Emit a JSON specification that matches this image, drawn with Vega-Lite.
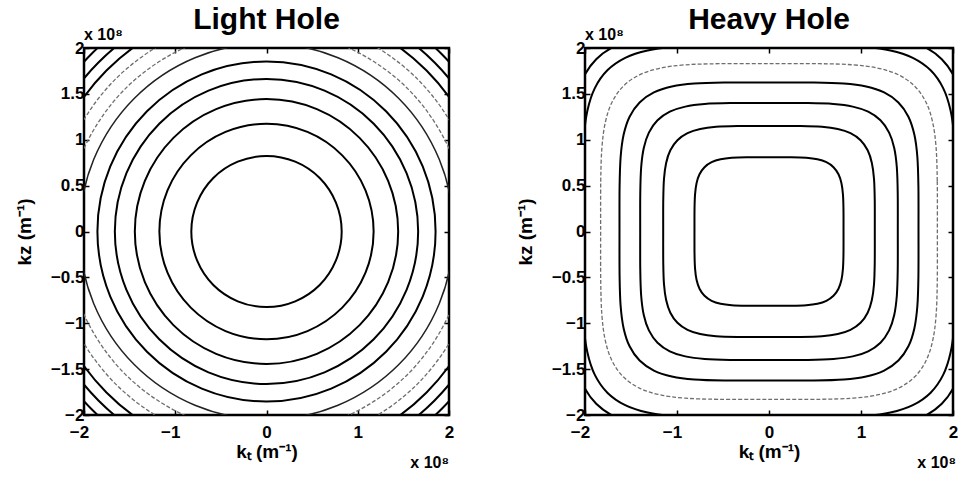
{
  "$schema": "https://vega.github.io/schema/vega-lite/v6.json",
  "padding": {"left": 14, "top": 3, "right": 0, "bottom": 0},
  "spacing": 60,
  "config": {
    "font": "Liberation Sans",
    "view": {"stroke": "black", "strokeWidth": 2.5},
    "axis": {
      "grid": false,
      "domain": false,
      "labelFont": "Liberation Sans",
      "labelFontSize": 17,
      "labelFontWeight": "bold",
      "labelColor": "black",
      "labelFlush": false,
      "labelOverlap": false,
      "tickColor": "black",
      "tickSize": -5,
      "tickWidth": 1.5,
      "titleFont": "Liberation Sans",
      "titleFontSize": 19,
      "titleFontWeight": "bold",
      "titleColor": "black"
    },
    "title": {"font": "Liberation Sans", "fontSize": 30, "fontWeight": "bold", "color": "black", "anchor": "middle", "offset": -8}
  },
  "datasets": {
    "light": [
      {"c":1,"i":0,"kt":0.824,"kz":0},{"c":1,"i":1,"kt":0.761,"kz":0.315},{"c":1,"i":2,"kt":0.583,"kz":0.583},{"c":1,"i":3,"kt":0.315,"kz":0.761},{"c":1,"i":4,"kt":0,"kz":0.824},{"c":1,"i":5,"kt":-0.315,"kz":0.761},{"c":1,"i":6,"kt":-0.583,"kz":0.583},{"c":1,"i":7,"kt":-0.761,"kz":0.315},{"c":1,"i":8,"kt":-0.824,"kz":0},{"c":1,"i":9,"kt":-0.761,"kz":-0.315},{"c":1,"i":10,"kt":-0.583,"kz":-0.583},{"c":1,"i":11,"kt":-0.315,"kz":-0.761},{"c":1,"i":12,"kt":0,"kz":-0.824},{"c":1,"i":13,"kt":0.315,"kz":-0.761},{"c":1,"i":14,"kt":0.583,"kz":-0.583},{"c":1,"i":15,"kt":0.761,"kz":-0.315},
      {"c":2,"i":0,"kt":1.174,"kz":0},{"c":2,"i":1,"kt":1.085,"kz":0.449},{"c":2,"i":2,"kt":0.83,"kz":0.83},{"c":2,"i":3,"kt":0.449,"kz":1.085},{"c":2,"i":4,"kt":0,"kz":1.174},{"c":2,"i":5,"kt":-0.449,"kz":1.085},{"c":2,"i":6,"kt":-0.83,"kz":0.83},{"c":2,"i":7,"kt":-1.085,"kz":0.449},{"c":2,"i":8,"kt":-1.174,"kz":0},{"c":2,"i":9,"kt":-1.085,"kz":-0.449},{"c":2,"i":10,"kt":-0.83,"kz":-0.83},{"c":2,"i":11,"kt":-0.449,"kz":-1.085},{"c":2,"i":12,"kt":0,"kz":-1.174},{"c":2,"i":13,"kt":0.449,"kz":-1.085},{"c":2,"i":14,"kt":0.83,"kz":-0.83},{"c":2,"i":15,"kt":1.085,"kz":-0.449},
      {"c":3,"i":0,"kt":1.443,"kz":0},{"c":3,"i":1,"kt":1.333,"kz":0.552},{"c":3,"i":2,"kt":1.02,"kz":1.02},{"c":3,"i":3,"kt":0.552,"kz":1.333},{"c":3,"i":4,"kt":0,"kz":1.443},{"c":3,"i":5,"kt":-0.552,"kz":1.333},{"c":3,"i":6,"kt":-1.02,"kz":1.02},{"c":3,"i":7,"kt":-1.333,"kz":0.552},{"c":3,"i":8,"kt":-1.443,"kz":0},{"c":3,"i":9,"kt":-1.333,"kz":-0.552},{"c":3,"i":10,"kt":-1.02,"kz":-1.02},{"c":3,"i":11,"kt":-0.552,"kz":-1.333},{"c":3,"i":12,"kt":0,"kz":-1.443},{"c":3,"i":13,"kt":0.552,"kz":-1.333},{"c":3,"i":14,"kt":1.02,"kz":-1.02},{"c":3,"i":15,"kt":1.333,"kz":-0.552},
      {"c":4,"i":0,"kt":1.662,"kz":0},{"c":4,"i":1,"kt":1.535,"kz":0.636},{"c":4,"i":2,"kt":1.175,"kz":1.175},{"c":4,"i":3,"kt":0.636,"kz":1.535},{"c":4,"i":4,"kt":0,"kz":1.662},{"c":4,"i":5,"kt":-0.636,"kz":1.535},{"c":4,"i":6,"kt":-1.175,"kz":1.175},{"c":4,"i":7,"kt":-1.535,"kz":0.636},{"c":4,"i":8,"kt":-1.662,"kz":0},{"c":4,"i":9,"kt":-1.535,"kz":-0.636},{"c":4,"i":10,"kt":-1.175,"kz":-1.175},{"c":4,"i":11,"kt":-0.636,"kz":-1.535},{"c":4,"i":12,"kt":0,"kz":-1.662},{"c":4,"i":13,"kt":0.636,"kz":-1.535},{"c":4,"i":14,"kt":1.175,"kz":-1.175},{"c":4,"i":15,"kt":1.535,"kz":-0.636},
      {"c":5,"i":0,"kt":1.853,"kz":0},{"c":5,"i":1,"kt":1.712,"kz":0.709},{"c":5,"i":2,"kt":1.31,"kz":1.31},{"c":5,"i":3,"kt":0.709,"kz":1.712},{"c":5,"i":4,"kt":0,"kz":1.853},{"c":5,"i":5,"kt":-0.709,"kz":1.712},{"c":5,"i":6,"kt":-1.31,"kz":1.31},{"c":5,"i":7,"kt":-1.712,"kz":0.709},{"c":5,"i":8,"kt":-1.853,"kz":0},{"c":5,"i":9,"kt":-1.712,"kz":-0.709},{"c":5,"i":10,"kt":-1.31,"kz":-1.31},{"c":5,"i":11,"kt":-0.709,"kz":-1.712},{"c":5,"i":12,"kt":0,"kz":-1.853},{"c":5,"i":13,"kt":0.709,"kz":-1.712},{"c":5,"i":14,"kt":1.31,"kz":-1.31},{"c":5,"i":15,"kt":1.712,"kz":-0.709},
      {"c":6,"i":0,"kt":2.05,"kz":0},{"c":6,"i":1,"kt":1.894,"kz":0.784},{"c":6,"i":2,"kt":1.45,"kz":1.45},{"c":6,"i":3,"kt":0.784,"kz":1.894},{"c":6,"i":4,"kt":0,"kz":2.05},{"c":6,"i":5,"kt":-0.784,"kz":1.894},{"c":6,"i":6,"kt":-1.45,"kz":1.45},{"c":6,"i":7,"kt":-1.894,"kz":0.784},{"c":6,"i":8,"kt":-2.05,"kz":0},{"c":6,"i":9,"kt":-1.894,"kz":-0.784},{"c":6,"i":10,"kt":-1.45,"kz":-1.45},{"c":6,"i":11,"kt":-0.784,"kz":-1.894},{"c":6,"i":12,"kt":0,"kz":-2.05},{"c":6,"i":13,"kt":0.784,"kz":-1.894},{"c":6,"i":14,"kt":1.45,"kz":-1.45},{"c":6,"i":15,"kt":1.894,"kz":-0.784},
      {"c":7,"i":0,"kt":2.195,"kz":0},{"c":7,"i":1,"kt":2.028,"kz":0.84},{"c":7,"i":2,"kt":1.552,"kz":1.552},{"c":7,"i":3,"kt":0.84,"kz":2.028},{"c":7,"i":4,"kt":0,"kz":2.195},{"c":7,"i":5,"kt":-0.84,"kz":2.028},{"c":7,"i":6,"kt":-1.552,"kz":1.552},{"c":7,"i":7,"kt":-2.028,"kz":0.84},{"c":7,"i":8,"kt":-2.195,"kz":0},{"c":7,"i":9,"kt":-2.028,"kz":-0.84},{"c":7,"i":10,"kt":-1.552,"kz":-1.552},{"c":7,"i":11,"kt":-0.84,"kz":-2.028},{"c":7,"i":12,"kt":0,"kz":-2.195},{"c":7,"i":13,"kt":0.84,"kz":-2.028},{"c":7,"i":14,"kt":1.552,"kz":-1.552},{"c":7,"i":15,"kt":2.028,"kz":-0.84},
      {"c":8,"i":0,"kt":2.345,"kz":0},{"c":8,"i":1,"kt":2.166,"kz":0.897},{"c":8,"i":2,"kt":1.658,"kz":1.658},{"c":8,"i":3,"kt":0.897,"kz":2.166},{"c":8,"i":4,"kt":0,"kz":2.345},{"c":8,"i":5,"kt":-0.897,"kz":2.166},{"c":8,"i":6,"kt":-1.658,"kz":1.658},{"c":8,"i":7,"kt":-2.166,"kz":0.897},{"c":8,"i":8,"kt":-2.345,"kz":0},{"c":8,"i":9,"kt":-2.166,"kz":-0.897},{"c":8,"i":10,"kt":-1.658,"kz":-1.658},{"c":8,"i":11,"kt":-0.897,"kz":-2.166},{"c":8,"i":12,"kt":0,"kz":-2.345},{"c":8,"i":13,"kt":0.897,"kz":-2.166},{"c":8,"i":14,"kt":1.658,"kz":-1.658},{"c":8,"i":15,"kt":2.166,"kz":-0.897},
      {"c":9,"i":0,"kt":2.48,"kz":0},{"c":9,"i":1,"kt":2.291,"kz":0.949},{"c":9,"i":2,"kt":1.754,"kz":1.754},{"c":9,"i":3,"kt":0.949,"kz":2.291},{"c":9,"i":4,"kt":0,"kz":2.48},{"c":9,"i":5,"kt":-0.949,"kz":2.291},{"c":9,"i":6,"kt":-1.754,"kz":1.754},{"c":9,"i":7,"kt":-2.291,"kz":0.949},{"c":9,"i":8,"kt":-2.48,"kz":0},{"c":9,"i":9,"kt":-2.291,"kz":-0.949},{"c":9,"i":10,"kt":-1.754,"kz":-1.754},{"c":9,"i":11,"kt":-0.949,"kz":-2.291},{"c":9,"i":12,"kt":0,"kz":-2.48},{"c":9,"i":13,"kt":0.949,"kz":-2.291},{"c":9,"i":14,"kt":1.754,"kz":-1.754},{"c":9,"i":15,"kt":2.291,"kz":-0.949},
      {"c":10,"i":0,"kt":2.605,"kz":0},{"c":10,"i":1,"kt":2.407,"kz":0.997},{"c":10,"i":2,"kt":1.842,"kz":1.842},{"c":10,"i":3,"kt":0.997,"kz":2.407},{"c":10,"i":4,"kt":0,"kz":2.605},{"c":10,"i":5,"kt":-0.997,"kz":2.407},{"c":10,"i":6,"kt":-1.842,"kz":1.842},{"c":10,"i":7,"kt":-2.407,"kz":0.997},{"c":10,"i":8,"kt":-2.605,"kz":0},{"c":10,"i":9,"kt":-2.407,"kz":-0.997},{"c":10,"i":10,"kt":-1.842,"kz":-1.842},{"c":10,"i":11,"kt":-0.997,"kz":-2.407},{"c":10,"i":12,"kt":0,"kz":-2.605},{"c":10,"i":13,"kt":0.997,"kz":-2.407},{"c":10,"i":14,"kt":1.842,"kz":-1.842},{"c":10,"i":15,"kt":2.407,"kz":-0.997},
      {"c":11,"i":0,"kt":2.725,"kz":0},{"c":11,"i":1,"kt":2.518,"kz":1.043},{"c":11,"i":2,"kt":1.927,"kz":1.927},{"c":11,"i":3,"kt":1.043,"kz":2.518},{"c":11,"i":4,"kt":0,"kz":2.725},{"c":11,"i":5,"kt":-1.043,"kz":2.518},{"c":11,"i":6,"kt":-1.927,"kz":1.927},{"c":11,"i":7,"kt":-2.518,"kz":1.043},{"c":11,"i":8,"kt":-2.725,"kz":0},{"c":11,"i":9,"kt":-2.518,"kz":-1.043},{"c":11,"i":10,"kt":-1.927,"kz":-1.927},{"c":11,"i":11,"kt":-1.043,"kz":-2.518},{"c":11,"i":12,"kt":0,"kz":-2.725},{"c":11,"i":13,"kt":1.043,"kz":-2.518},{"c":11,"i":14,"kt":1.927,"kz":-1.927},{"c":11,"i":15,"kt":2.518,"kz":-1.043}
    ],
    "heavy": [
      {"c":1,"i":0,"kt":0.81,"kz":0},{"c":1,"i":1,"kt":0.8095,"kz":0.243},{"c":1,"i":2,"kt":0.8038,"kz":0.405},{"c":1,"i":3,"kt":0.7875,"kz":0.5265},{"c":1,"i":4,"kt":0.7553,"kz":0.6237},{"c":1,"i":5,"kt":0.7011,"kz":0.7011},{"c":1,"i":6,"kt":0.6237,"kz":0.7553},{"c":1,"i":7,"kt":0.5265,"kz":0.7875},{"c":1,"i":8,"kt":0.405,"kz":0.8038},{"c":1,"i":9,"kt":0.243,"kz":0.8095},
      {"c":1,"i":10,"kt":0,"kz":0.81},{"c":1,"i":11,"kt":-0.243,"kz":0.8095},{"c":1,"i":12,"kt":-0.405,"kz":0.8038},{"c":1,"i":13,"kt":-0.5265,"kz":0.7875},{"c":1,"i":14,"kt":-0.6237,"kz":0.7553},{"c":1,"i":15,"kt":-0.7011,"kz":0.7011},{"c":1,"i":16,"kt":-0.7553,"kz":0.6237},{"c":1,"i":17,"kt":-0.7875,"kz":0.5265},{"c":1,"i":18,"kt":-0.8038,"kz":0.405},{"c":1,"i":19,"kt":-0.8095,"kz":0.243},
      {"c":1,"i":20,"kt":-0.81,"kz":0},{"c":1,"i":21,"kt":-0.8095,"kz":-0.243},{"c":1,"i":22,"kt":-0.8038,"kz":-0.405},{"c":1,"i":23,"kt":-0.7875,"kz":-0.5265},{"c":1,"i":24,"kt":-0.7553,"kz":-0.6237},{"c":1,"i":25,"kt":-0.7011,"kz":-0.7011},{"c":1,"i":26,"kt":-0.6237,"kz":-0.7553},{"c":1,"i":27,"kt":-0.5265,"kz":-0.7875},{"c":1,"i":28,"kt":-0.405,"kz":-0.8038},{"c":1,"i":29,"kt":-0.243,"kz":-0.8095},
      {"c":1,"i":30,"kt":0,"kz":-0.81},{"c":1,"i":31,"kt":0.243,"kz":-0.8095},{"c":1,"i":32,"kt":0.405,"kz":-0.8038},{"c":1,"i":33,"kt":0.5265,"kz":-0.7875},{"c":1,"i":34,"kt":0.6237,"kz":-0.7553},{"c":1,"i":35,"kt":0.7011,"kz":-0.7011},{"c":1,"i":36,"kt":0.7553,"kz":-0.6237},{"c":1,"i":37,"kt":0.7875,"kz":-0.5265},{"c":1,"i":38,"kt":0.8038,"kz":-0.405},{"c":1,"i":39,"kt":0.8095,"kz":-0.243},
      {"c":2,"i":0,"kt":1.15,"kz":0},{"c":2,"i":1,"kt":1.1493,"kz":0.345},{"c":2,"i":2,"kt":1.1413,"kz":0.575},{"c":2,"i":3,"kt":1.118,"kz":0.7475},{"c":2,"i":4,"kt":1.0724,"kz":0.8855},{"c":2,"i":5,"kt":0.9953,"kz":0.9953},{"c":2,"i":6,"kt":0.8855,"kz":1.0724},{"c":2,"i":7,"kt":0.7475,"kz":1.118},{"c":2,"i":8,"kt":0.575,"kz":1.1413},{"c":2,"i":9,"kt":0.345,"kz":1.1493},
      {"c":2,"i":10,"kt":0,"kz":1.15},{"c":2,"i":11,"kt":-0.345,"kz":1.1493},{"c":2,"i":12,"kt":-0.575,"kz":1.1413},{"c":2,"i":13,"kt":-0.7475,"kz":1.118},{"c":2,"i":14,"kt":-0.8855,"kz":1.0724},{"c":2,"i":15,"kt":-0.9953,"kz":0.9953},{"c":2,"i":16,"kt":-1.0724,"kz":0.8855},{"c":2,"i":17,"kt":-1.118,"kz":0.7475},{"c":2,"i":18,"kt":-1.1413,"kz":0.575},{"c":2,"i":19,"kt":-1.1493,"kz":0.345},
      {"c":2,"i":20,"kt":-1.15,"kz":0},{"c":2,"i":21,"kt":-1.1493,"kz":-0.345},{"c":2,"i":22,"kt":-1.1413,"kz":-0.575},{"c":2,"i":23,"kt":-1.118,"kz":-0.7475},{"c":2,"i":24,"kt":-1.0724,"kz":-0.8855},{"c":2,"i":25,"kt":-0.9953,"kz":-0.9953},{"c":2,"i":26,"kt":-0.8855,"kz":-1.0724},{"c":2,"i":27,"kt":-0.7475,"kz":-1.118},{"c":2,"i":28,"kt":-0.575,"kz":-1.1413},{"c":2,"i":29,"kt":-0.345,"kz":-1.1493},
      {"c":2,"i":30,"kt":0,"kz":-1.15},{"c":2,"i":31,"kt":0.345,"kz":-1.1493},{"c":2,"i":32,"kt":0.575,"kz":-1.1413},{"c":2,"i":33,"kt":0.7475,"kz":-1.118},{"c":2,"i":34,"kt":0.8855,"kz":-1.0724},{"c":2,"i":35,"kt":0.9953,"kz":-0.9953},{"c":2,"i":36,"kt":1.0724,"kz":-0.8855},{"c":2,"i":37,"kt":1.118,"kz":-0.7475},{"c":2,"i":38,"kt":1.1413,"kz":-0.575},{"c":2,"i":39,"kt":1.1493,"kz":-0.345},
      {"c":3,"i":0,"kt":1.4,"kz":0},{"c":3,"i":1,"kt":1.3992,"kz":0.42},{"c":3,"i":2,"kt":1.3894,"kz":0.7},{"c":3,"i":3,"kt":1.3611,"kz":0.91},{"c":3,"i":4,"kt":1.3055,"kz":1.078},{"c":3,"i":5,"kt":1.2117,"kz":1.2117},{"c":3,"i":6,"kt":1.078,"kz":1.3055},{"c":3,"i":7,"kt":0.91,"kz":1.3611},{"c":3,"i":8,"kt":0.7,"kz":1.3894},{"c":3,"i":9,"kt":0.42,"kz":1.3992},
      {"c":3,"i":10,"kt":0,"kz":1.4},{"c":3,"i":11,"kt":-0.42,"kz":1.3992},{"c":3,"i":12,"kt":-0.7,"kz":1.3894},{"c":3,"i":13,"kt":-0.91,"kz":1.3611},{"c":3,"i":14,"kt":-1.078,"kz":1.3055},{"c":3,"i":15,"kt":-1.2117,"kz":1.2117},{"c":3,"i":16,"kt":-1.3055,"kz":1.078},{"c":3,"i":17,"kt":-1.3611,"kz":0.91},{"c":3,"i":18,"kt":-1.3894,"kz":0.7},{"c":3,"i":19,"kt":-1.3992,"kz":0.42},
      {"c":3,"i":20,"kt":-1.4,"kz":0},{"c":3,"i":21,"kt":-1.3992,"kz":-0.42},{"c":3,"i":22,"kt":-1.3894,"kz":-0.7},{"c":3,"i":23,"kt":-1.3611,"kz":-0.91},{"c":3,"i":24,"kt":-1.3055,"kz":-1.078},{"c":3,"i":25,"kt":-1.2117,"kz":-1.2117},{"c":3,"i":26,"kt":-1.078,"kz":-1.3055},{"c":3,"i":27,"kt":-0.91,"kz":-1.3611},{"c":3,"i":28,"kt":-0.7,"kz":-1.3894},{"c":3,"i":29,"kt":-0.42,"kz":-1.3992},
      {"c":3,"i":30,"kt":0,"kz":-1.4},{"c":3,"i":31,"kt":0.42,"kz":-1.3992},{"c":3,"i":32,"kt":0.7,"kz":-1.3894},{"c":3,"i":33,"kt":0.91,"kz":-1.3611},{"c":3,"i":34,"kt":1.078,"kz":-1.3055},{"c":3,"i":35,"kt":1.2117,"kz":-1.2117},{"c":3,"i":36,"kt":1.3055,"kz":-1.078},{"c":3,"i":37,"kt":1.3611,"kz":-0.91},{"c":3,"i":38,"kt":1.3894,"kz":-0.7},{"c":3,"i":39,"kt":1.3992,"kz":-0.42},
      {"c":4,"i":0,"kt":1.625,"kz":0},{"c":4,"i":1,"kt":1.624,"kz":0.4875},{"c":4,"i":2,"kt":1.6127,"kz":0.8125},{"c":4,"i":3,"kt":1.5798,"kz":1.0563},{"c":4,"i":4,"kt":1.5153,"kz":1.2513},{"c":4,"i":5,"kt":1.4064,"kz":1.4064},{"c":4,"i":6,"kt":1.2513,"kz":1.5153},{"c":4,"i":7,"kt":1.0563,"kz":1.5798},{"c":4,"i":8,"kt":0.8125,"kz":1.6127},{"c":4,"i":9,"kt":0.4875,"kz":1.624},
      {"c":4,"i":10,"kt":0,"kz":1.625},{"c":4,"i":11,"kt":-0.4875,"kz":1.624},{"c":4,"i":12,"kt":-0.8125,"kz":1.6127},{"c":4,"i":13,"kt":-1.0563,"kz":1.5798},{"c":4,"i":14,"kt":-1.2513,"kz":1.5153},{"c":4,"i":15,"kt":-1.4064,"kz":1.4064},{"c":4,"i":16,"kt":-1.5153,"kz":1.2513},{"c":4,"i":17,"kt":-1.5798,"kz":1.0563},{"c":4,"i":18,"kt":-1.6127,"kz":0.8125},{"c":4,"i":19,"kt":-1.624,"kz":0.4875},
      {"c":4,"i":20,"kt":-1.625,"kz":0},{"c":4,"i":21,"kt":-1.624,"kz":-0.4875},{"c":4,"i":22,"kt":-1.6127,"kz":-0.8125},{"c":4,"i":23,"kt":-1.5798,"kz":-1.0563},{"c":4,"i":24,"kt":-1.5153,"kz":-1.2513},{"c":4,"i":25,"kt":-1.4064,"kz":-1.4064},{"c":4,"i":26,"kt":-1.2513,"kz":-1.5153},{"c":4,"i":27,"kt":-1.0563,"kz":-1.5798},{"c":4,"i":28,"kt":-0.8125,"kz":-1.6127},{"c":4,"i":29,"kt":-0.4875,"kz":-1.624},
      {"c":4,"i":30,"kt":0,"kz":-1.625},{"c":4,"i":31,"kt":0.4875,"kz":-1.624},{"c":4,"i":32,"kt":0.8125,"kz":-1.6127},{"c":4,"i":33,"kt":1.0563,"kz":-1.5798},{"c":4,"i":34,"kt":1.2513,"kz":-1.5153},{"c":4,"i":35,"kt":1.4064,"kz":-1.4064},{"c":4,"i":36,"kt":1.5153,"kz":-1.2513},{"c":4,"i":37,"kt":1.5798,"kz":-1.0563},{"c":4,"i":38,"kt":1.6127,"kz":-0.8125},{"c":4,"i":39,"kt":1.624,"kz":-0.4875},
      {"c":5,"i":0,"kt":1.83,"kz":0},{"c":5,"i":1,"kt":1.8289,"kz":0.549},{"c":5,"i":2,"kt":1.8161,"kz":0.915},{"c":5,"i":3,"kt":1.7791,"kz":1.1895},{"c":5,"i":4,"kt":1.7065,"kz":1.4091},{"c":5,"i":5,"kt":1.5839,"kz":1.5839},{"c":5,"i":6,"kt":1.4091,"kz":1.7065},{"c":5,"i":7,"kt":1.1895,"kz":1.7791},{"c":5,"i":8,"kt":0.915,"kz":1.8161},{"c":5,"i":9,"kt":0.549,"kz":1.8289},
      {"c":5,"i":10,"kt":0,"kz":1.83},{"c":5,"i":11,"kt":-0.549,"kz":1.8289},{"c":5,"i":12,"kt":-0.915,"kz":1.8161},{"c":5,"i":13,"kt":-1.1895,"kz":1.7791},{"c":5,"i":14,"kt":-1.4091,"kz":1.7065},{"c":5,"i":15,"kt":-1.5839,"kz":1.5839},{"c":5,"i":16,"kt":-1.7065,"kz":1.4091},{"c":5,"i":17,"kt":-1.7791,"kz":1.1895},{"c":5,"i":18,"kt":-1.8161,"kz":0.915},{"c":5,"i":19,"kt":-1.8289,"kz":0.549},
      {"c":5,"i":20,"kt":-1.83,"kz":0},{"c":5,"i":21,"kt":-1.8289,"kz":-0.549},{"c":5,"i":22,"kt":-1.8161,"kz":-0.915},{"c":5,"i":23,"kt":-1.7791,"kz":-1.1895},{"c":5,"i":24,"kt":-1.7065,"kz":-1.4091},{"c":5,"i":25,"kt":-1.5839,"kz":-1.5839},{"c":5,"i":26,"kt":-1.4091,"kz":-1.7065},{"c":5,"i":27,"kt":-1.1895,"kz":-1.7791},{"c":5,"i":28,"kt":-0.915,"kz":-1.8161},{"c":5,"i":29,"kt":-0.549,"kz":-1.8289},
      {"c":5,"i":30,"kt":0,"kz":-1.83},{"c":5,"i":31,"kt":0.549,"kz":-1.8289},{"c":5,"i":32,"kt":0.915,"kz":-1.8161},{"c":5,"i":33,"kt":1.1895,"kz":-1.7791},{"c":5,"i":34,"kt":1.4091,"kz":-1.7065},{"c":5,"i":35,"kt":1.5839,"kz":-1.5839},{"c":5,"i":36,"kt":1.7065,"kz":-1.4091},{"c":5,"i":37,"kt":1.7791,"kz":-1.1895},{"c":5,"i":38,"kt":1.8161,"kz":-0.915},{"c":5,"i":39,"kt":1.8289,"kz":-0.549},
      {"c":6,"i":0,"kt":2.03,"kz":0},{"c":6,"i":1,"kt":2.0288,"kz":0.609},{"c":6,"i":2,"kt":2.0146,"kz":1.015},{"c":6,"i":3,"kt":1.9736,"kz":1.3195},{"c":6,"i":4,"kt":1.893,"kz":1.5631},{"c":6,"i":5,"kt":1.757,"kz":1.757},{"c":6,"i":6,"kt":1.5631,"kz":1.893},{"c":6,"i":7,"kt":1.3195,"kz":1.9736},{"c":6,"i":8,"kt":1.015,"kz":2.0146},{"c":6,"i":9,"kt":0.609,"kz":2.0288},
      {"c":6,"i":10,"kt":0,"kz":2.03},{"c":6,"i":11,"kt":-0.609,"kz":2.0288},{"c":6,"i":12,"kt":-1.015,"kz":2.0146},{"c":6,"i":13,"kt":-1.3195,"kz":1.9736},{"c":6,"i":14,"kt":-1.5631,"kz":1.893},{"c":6,"i":15,"kt":-1.757,"kz":1.757},{"c":6,"i":16,"kt":-1.893,"kz":1.5631},{"c":6,"i":17,"kt":-1.9736,"kz":1.3195},{"c":6,"i":18,"kt":-2.0146,"kz":1.015},{"c":6,"i":19,"kt":-2.0288,"kz":0.609},
      {"c":6,"i":20,"kt":-2.03,"kz":0},{"c":6,"i":21,"kt":-2.0288,"kz":-0.609},{"c":6,"i":22,"kt":-2.0146,"kz":-1.015},{"c":6,"i":23,"kt":-1.9736,"kz":-1.3195},{"c":6,"i":24,"kt":-1.893,"kz":-1.5631},{"c":6,"i":25,"kt":-1.757,"kz":-1.757},{"c":6,"i":26,"kt":-1.5631,"kz":-1.893},{"c":6,"i":27,"kt":-1.3195,"kz":-1.9736},{"c":6,"i":28,"kt":-1.015,"kz":-2.0146},{"c":6,"i":29,"kt":-0.609,"kz":-2.0288},
      {"c":6,"i":30,"kt":0,"kz":-2.03},{"c":6,"i":31,"kt":0.609,"kz":-2.0288},{"c":6,"i":32,"kt":1.015,"kz":-2.0146},{"c":6,"i":33,"kt":1.3195,"kz":-1.9736},{"c":6,"i":34,"kt":1.5631,"kz":-1.893},{"c":6,"i":35,"kt":1.757,"kz":-1.757},{"c":6,"i":36,"kt":1.893,"kz":-1.5631},{"c":6,"i":37,"kt":1.9736,"kz":-1.3195},{"c":6,"i":38,"kt":2.0146,"kz":-1.015},{"c":6,"i":39,"kt":2.0288,"kz":-0.609},
      {"c":7,"i":0,"kt":2.17,"kz":0},{"c":7,"i":1,"kt":2.1687,"kz":0.651},{"c":7,"i":2,"kt":2.1535,"kz":1.085},{"c":7,"i":3,"kt":2.1097,"kz":1.4105},{"c":7,"i":4,"kt":2.0235,"kz":1.6709},{"c":7,"i":5,"kt":1.8781,"kz":1.8781},{"c":7,"i":6,"kt":1.6709,"kz":2.0235},{"c":7,"i":7,"kt":1.4105,"kz":2.1097},{"c":7,"i":8,"kt":1.085,"kz":2.1535},{"c":7,"i":9,"kt":0.651,"kz":2.1687},
      {"c":7,"i":10,"kt":0,"kz":2.17},{"c":7,"i":11,"kt":-0.651,"kz":2.1687},{"c":7,"i":12,"kt":-1.085,"kz":2.1535},{"c":7,"i":13,"kt":-1.4105,"kz":2.1097},{"c":7,"i":14,"kt":-1.6709,"kz":2.0235},{"c":7,"i":15,"kt":-1.8781,"kz":1.8781},{"c":7,"i":16,"kt":-2.0235,"kz":1.6709},{"c":7,"i":17,"kt":-2.1097,"kz":1.4105},{"c":7,"i":18,"kt":-2.1535,"kz":1.085},{"c":7,"i":19,"kt":-2.1687,"kz":0.651},
      {"c":7,"i":20,"kt":-2.17,"kz":0},{"c":7,"i":21,"kt":-2.1687,"kz":-0.651},{"c":7,"i":22,"kt":-2.1535,"kz":-1.085},{"c":7,"i":23,"kt":-2.1097,"kz":-1.4105},{"c":7,"i":24,"kt":-2.0235,"kz":-1.6709},{"c":7,"i":25,"kt":-1.8781,"kz":-1.8781},{"c":7,"i":26,"kt":-1.6709,"kz":-2.0235},{"c":7,"i":27,"kt":-1.4105,"kz":-2.1097},{"c":7,"i":28,"kt":-1.085,"kz":-2.1535},{"c":7,"i":29,"kt":-0.651,"kz":-2.1687},
      {"c":7,"i":30,"kt":0,"kz":-2.17},{"c":7,"i":31,"kt":0.651,"kz":-2.1687},{"c":7,"i":32,"kt":1.085,"kz":-2.1535},{"c":7,"i":33,"kt":1.4105,"kz":-2.1097},{"c":7,"i":34,"kt":1.6709,"kz":-2.0235},{"c":7,"i":35,"kt":1.8781,"kz":-1.8781},{"c":7,"i":36,"kt":2.0235,"kz":-1.6709},{"c":7,"i":37,"kt":2.1097,"kz":-1.4105},{"c":7,"i":38,"kt":2.1535,"kz":-1.085},{"c":7,"i":39,"kt":2.1687,"kz":-0.651}
    ]
  },
  "hconcat": [
    {
      "width": 365,
      "height": 367,
      "title": {"text": "Light Hole"},
      "data": {"name": "light"},
      "resolve": {"axis": {"x": "independent", "y": "independent"}},
      "layer": [
        {
          "transform": [{"filter": {"field": "c", "oneOf": [1, 2, 3, 4, 5, 9, 10, 11]}}],
          "mark": {"type": "line", "interpolate": "cardinal-closed", "clip": true, "color": "black", "strokeWidth": 2},
          "encoding": {
            "x": {"field": "kt", "type": "quantitative", "scale": {"domain": [-2, 2], "nice": false, "zero": false},
              "axis": {"orient": "bottom", "values": [-2, -1, 0, 1, 2], "format": "~g", "title": "kₜ (m⁻¹)", "labelPadding": 14, "titlePadding": 2,
                "labelOffset": {"condition": {"test": "datum.value < 0", "value": -5}, "value": 0}}},
            "y": {"field": "kz", "type": "quantitative", "scale": {"domain": [-2, 2], "nice": false, "zero": false},
              "axis": {"orient": "left", "values": [-2, -1.5, -1, -0.5, 0, 0.5, 1, 1.5, 2], "format": "~g", "title": "kz (m⁻¹)", "labelPadding": 5, "titlePadding": 16}},
            "detail": {"field": "c", "type": "nominal"},
            "order": {"field": "i", "type": "quantitative"}
          }
        },
        {
          "transform": [{"filter": {"field": "c", "oneOf": [7, 8]}}],
          "mark": {"type": "line", "interpolate": "cardinal-closed", "clip": true, "color": "#6e6e6e", "strokeWidth": 1.3, "strokeDash": [4, 2]},
          "encoding": {
            "x": {"field": "kt", "type": "quantitative", "scale": {"domain": [-2, 2], "nice": false, "zero": false},
              "axis": {"orient": "top", "values": [-2, -1, 0, 1, 2], "labels": false, "title": null}},
            "y": {"field": "kz", "type": "quantitative", "scale": {"domain": [-2, 2], "nice": false, "zero": false},
              "axis": {"orient": "right", "values": [-2, -1.5, -1, -0.5, 0, 0.5, 1, 1.5, 2], "labels": false, "title": null}},
            "detail": {"field": "c", "type": "nominal"},
            "order": {"field": "i", "type": "quantitative"}
          }
        },
        {
          "transform": [{"filter": {"field": "c", "oneOf": [6]}}],
          "mark": {"type": "line", "interpolate": "cardinal-closed", "clip": true, "color": "#222222", "strokeWidth": 1.5},
          "encoding": {
            "x": {"field": "kt", "type": "quantitative", "scale": {"domain": [-2, 2], "nice": false, "zero": false}, "axis": null},
            "y": {"field": "kz", "type": "quantitative", "scale": {"domain": [-2, 2], "nice": false, "zero": false}, "axis": null},
            "detail": {"field": "c", "type": "nominal"},
            "order": {"field": "i", "type": "quantitative"}
          }
        },
        {
          "data": {"values": [{}]},
          "mark": {"type": "text", "text": "x 10⁸", "align": "left", "baseline": "alphabetic", "dy": -8, "fontSize": 16, "fontWeight": "bold", "color": "black"},
          "encoding": {
            "x": {"datum": -2, "type": "quantitative", "scale": {"domain": [-2, 2], "nice": false, "zero": false}, "axis": null},
            "y": {"datum": 2, "type": "quantitative", "scale": {"domain": [-2, 2], "nice": false, "zero": false}, "axis": null}
          }
        },
        {
          "data": {"values": [{}]},
          "mark": {"type": "text", "text": "x 10⁸", "align": "right", "baseline": "alphabetic", "dy": 53, "fontSize": 16, "fontWeight": "bold", "color": "black"},
          "encoding": {
            "x": {"datum": 2, "type": "quantitative", "scale": {"domain": [-2, 2], "nice": false, "zero": false}, "axis": null},
            "y": {"datum": -2, "type": "quantitative", "scale": {"domain": [-2, 2], "nice": false, "zero": false}, "axis": null}
          }
        }
      ]
    },
    {
      "width": 368,
      "height": 367,
      "title": {"text": "Heavy Hole"},
      "data": {"name": "heavy"},
      "resolve": {"axis": {"x": "independent", "y": "independent"}},
      "layer": [
        {
          "transform": [{"filter": {"field": "c", "oneOf": [1, 2, 3, 4, 6, 7]}}],
          "mark": {"type": "line", "interpolate": "cardinal-closed", "clip": true, "color": "black", "strokeWidth": 2},
          "encoding": {
            "x": {"field": "kt", "type": "quantitative", "scale": {"domain": [-2, 2], "nice": false, "zero": false},
              "axis": {"orient": "bottom", "values": [-2, -1, 0, 1, 2], "format": "~g", "title": "kₜ (m⁻¹)", "labelPadding": 14, "titlePadding": 2,
                "labelOffset": {"condition": {"test": "datum.value < 0", "value": -5}, "value": 0}}},
            "y": {"field": "kz", "type": "quantitative", "scale": {"domain": [-2, 2], "nice": false, "zero": false},
              "axis": {"orient": "left", "values": [-2, -1.5, -1, -0.5, 0, 0.5, 1, 1.5, 2], "format": "~g", "title": "kz (m⁻¹)", "labelPadding": 5, "titlePadding": 16}},
            "detail": {"field": "c", "type": "nominal"},
            "order": {"field": "i", "type": "quantitative"}
          }
        },
        {
          "transform": [{"filter": {"field": "c", "oneOf": [5]}}],
          "mark": {"type": "line", "interpolate": "cardinal-closed", "clip": true, "color": "#6e6e6e", "strokeWidth": 1.3, "strokeDash": [4, 2]},
          "encoding": {
            "x": {"field": "kt", "type": "quantitative", "scale": {"domain": [-2, 2], "nice": false, "zero": false},
              "axis": {"orient": "top", "values": [-2, -1, 0, 1, 2], "labels": false, "title": null}},
            "y": {"field": "kz", "type": "quantitative", "scale": {"domain": [-2, 2], "nice": false, "zero": false},
              "axis": {"orient": "right", "values": [-2, -1.5, -1, -0.5, 0, 0.5, 1, 1.5, 2], "labels": false, "title": null}},
            "detail": {"field": "c", "type": "nominal"},
            "order": {"field": "i", "type": "quantitative"}
          }
        },
        {
          "data": {"values": [{}]},
          "mark": {"type": "text", "text": "x 10⁸", "align": "left", "baseline": "alphabetic", "dy": -8, "fontSize": 16, "fontWeight": "bold", "color": "black"},
          "encoding": {
            "x": {"datum": -2, "type": "quantitative", "scale": {"domain": [-2, 2], "nice": false, "zero": false}, "axis": null},
            "y": {"datum": 2, "type": "quantitative", "scale": {"domain": [-2, 2], "nice": false, "zero": false}, "axis": null}
          }
        },
        {
          "data": {"values": [{}]},
          "mark": {"type": "text", "text": "x 10⁸", "align": "right", "baseline": "alphabetic", "dx": 3, "dy": 53, "fontSize": 16, "fontWeight": "bold", "color": "black"},
          "encoding": {
            "x": {"datum": 2, "type": "quantitative", "scale": {"domain": [-2, 2], "nice": false, "zero": false}, "axis": null},
            "y": {"datum": -2, "type": "quantitative", "scale": {"domain": [-2, 2], "nice": false, "zero": false}, "axis": null}
          }
        }
      ]
    }
  ]
}
